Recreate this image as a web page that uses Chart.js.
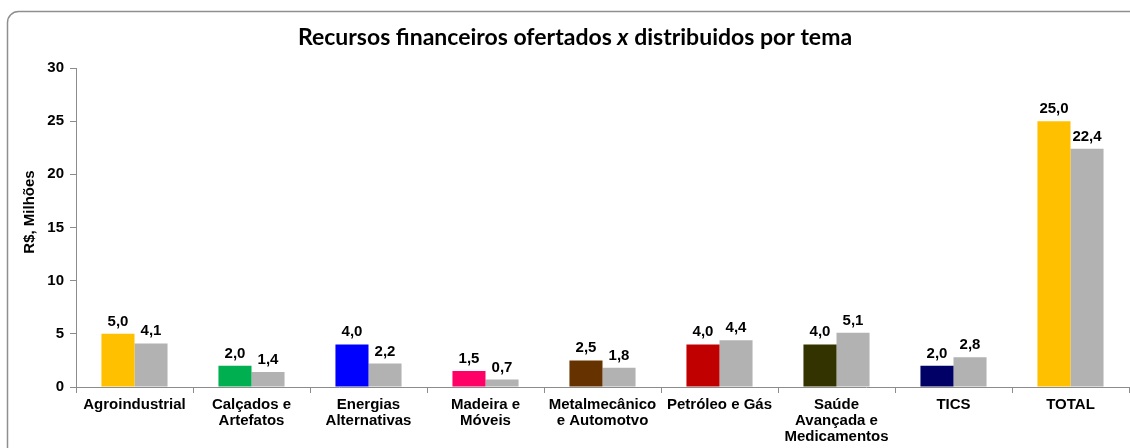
<!DOCTYPE html>
<html>
<head>
<meta charset="utf-8">
<script src="https://cdn.jsdelivr.net/npm/chart.js@4.4.0/dist/chart.umd.min.js"></script>
<style>
  html, body { margin: 0; padding: 0; background: #fff; }
  #wrap { position: relative; width: 1130px; height: 448px; }
</style>
</head>
<body>
<div id="wrap"><canvas id="chart" width="1130" height="448"></canvas></div>
<script>
// Data
const categories = [
  'Agroindustrial',
  ['Calçados e', 'Artefatos'],
  ['Energias', 'Alternativas'],
  ['Madeira e', 'Móveis'],
  ['Metalmecânico', 'e Automotvo'],
  'Petróleo e Gás',
  ['Saúde', 'Avançada e', 'Medicamentos'],
  'TICS',
  'TOTAL'
];
const ofertados = [5.0, 2.0, 4.0, 1.5, 2.5, 4.0, 4.0, 2.0, 25.0];
const distribuidos = [4.1, 1.4, 2.2, 0.7, 1.8, 4.4, 5.1, 2.8, 22.4];
const yTicks = [0, 5, 10, 15, 20, 25, 30];

const ofertadoColors = ['#FFC000', '#00B050', '#0000FF', '#FF0066', '#663300',
                        '#C00000', '#333300', '#000066', '#FFC000'];
const greyColor = '#B2B2B2';
const axisColor = '#8C8C8C';
const sans = '"Liberation Sans", Arial, sans-serif';
const tickFont = { family: sans, size: 15, weight: 'bold', lineHeight: 1.07 };

// frame, title, axis label and value labels
const decorations = {
  id: 'decorations',
  beforeDraw(chart) {
    const ctx = chart.ctx;
    ctx.save();
    ctx.strokeStyle = '#8F8F8F';
    ctx.lineWidth = 1.5;
    ctx.beginPath();
    ctx.roundRect(7.5, 11.5, 1140, 460, 11);
    ctx.stroke();
    ctx.restore();
  },
  afterDraw(chart) {
    const ctx = chart.ctx;
    ctx.save();

    // title with italic x
    const parts = [
      { t: 'Recursos financeiros ofertados ', f: 'bold 23px Lato, "Open Sans", sans-serif' },
      { t: 'x', f: 'italic bold 23px Lato, "Open Sans", sans-serif' },
      { t: ' distribuidos por tema', f: 'bold 23px Lato, "Open Sans", sans-serif' }
    ];
    let total = 0;
    parts.forEach(p => { ctx.font = p.f; p.w = ctx.measureText(p.t).width; total += p.w; });
    let x = 575 - total / 2;
    ctx.fillStyle = '#000';
    ctx.textBaseline = 'middle';
    ctx.textAlign = 'left';
    parts.forEach(p => { ctx.font = p.f; ctx.fillText(p.t, x, 38); x += p.w; });

    // y axis label
    ctx.save();
    ctx.translate(30, 212);
    ctx.rotate(-Math.PI / 2);
    ctx.textAlign = 'center';
    ctx.font = 'bold 15px ' + sans;
    ctx.fillText('R$, Milhões', 0, 0);
    ctx.restore();

    // value labels
    ctx.font = 'bold 15px ' + sans;
    ctx.textAlign = 'center';
    ctx.textBaseline = 'alphabetic';
    chart.data.datasets.forEach((ds, i) => {
      const meta = chart.getDatasetMeta(i);
      meta.data.forEach((bar, j) => {
        const txt = ds.data[j].toFixed(1).replace('.', ',');
        ctx.fillText(txt, bar.x, bar.y - 8);
      });
    });
    ctx.restore();
  }
};

new Chart(document.getElementById('chart'), {
  type: 'bar',
  data: {
    labels: categories,
    datasets: [
      {
        label: 'Ofertados',
        data: ofertados,
        backgroundColor: ofertadoColors,
        barPercentage: 1,
        categoryPercentage: 0.565
      },
      {
        label: 'Distribuidos',
        data: distribuidos,
        backgroundColor: greyColor,
        barPercentage: 1,
        categoryPercentage: 0.565
      }
    ]
  },
  options: {
    responsive: false,
    animation: false,
    layout: { padding: { top: 68, right: 1, left: 0, bottom: 0 } },
    plugins: {
      legend: { display: false },
      tooltip: { enabled: false },
      title: { display: false }
    },
    scales: {
      x: {
        offset: true,
        grid: {
          offset: true,
          drawOnChartArea: false,
          color: axisColor,
          tickLength: 6
        },
        border: { color: axisColor, width: 1 },
        ticks: {
          color: '#000',
          font: tickFont,
          maxRotation: 0,
          autoSkip: false,
          padding: 4
        },
        afterFit(scale) { scale.height = 61; }
      },
      y: {
        min: 0,
        max: 30,
        afterBuildTicks(scale) { scale.ticks = yTicks.map(v => ({ value: v })); },
        grid: {
          drawOnChartArea: false,
          color: axisColor,
          tickLength: 6
        },
        border: { color: axisColor, width: 1 },
        ticks: {
          color: '#000',
          font: tickFont,
          padding: 6
        },
        afterFit(scale) { scale.width = 76; }
      }
    }
  },
  plugins: [decorations]
});
</script>
</body>
</html>
